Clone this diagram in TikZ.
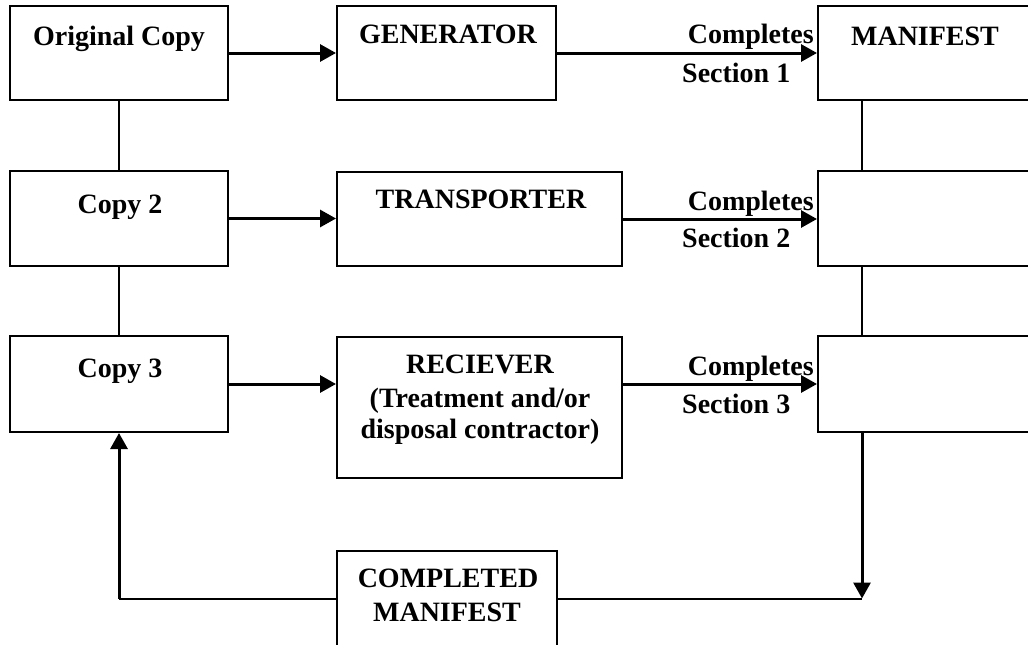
\documentclass[tikz,border=0pt]{standalone}
\usepackage{fontspec}
\setmainfont{Liberation Serif}
\usetikzlibrary{arrows.meta}
\begin{document}
\begin{tikzpicture}[x=1pt,y=-1pt,
  box/.style={draw, line width=2pt, inner sep=0pt, rectangle},
  lbl/.style={font=\fontsize{28}{32}\selectfont\bfseries, inner sep=0pt},
  arr/.style={line width=3pt, -{Triangle[length=16pt,width=17pt]}},
  ln/.style={line width=2pt}]
\useasboundingbox (0,0) rectangle (1028,645);
\clip (0,0) rectangle (1028,645);
% boxes
\node[box, minimum width=218pt, minimum height=94pt] (orig) at (119,53) {};
\node[box, minimum width=219pt, minimum height=94pt] (gen) at (446.5,53) {};
\node[box, minimum width=218pt, minimum height=94pt] (man) at (927,53) {};
\node[box, minimum width=218pt, minimum height=95pt] (copy2) at (119,218.5) {};
\node[box, minimum width=285pt, minimum height=94pt] (trans) at (479.5,219) {};
\node[box, minimum width=218pt, minimum height=95pt] (r2) at (927,218.5) {};
\node[box, minimum width=218pt, minimum height=96pt] (copy3) at (119,384) {};
\node[box, minimum width=285pt, minimum height=141pt] (rec) at (479.5,407.5) {};
\node[box, minimum width=218pt, minimum height=96pt] (r3) at (927,384) {};
\node[box, minimum width=220pt, minimum height=95pt] (comp) at (447,598.5) {};
% texts
\node[lbl, anchor=base] (torig) at (119,45) {Original Copy};
\node[lbl, anchor=base] (tgen) at (448,43) {GENERATOR};
\node[lbl, anchor=base] (tman) at (925,45) {MANIFEST};
\node[lbl, anchor=base] (tcopy2) at (120,213) {Copy 2};
\node[lbl, anchor=base] (ttrans) at (481,208) {TRANSPORTER};
\node[lbl, anchor=base] (tcopy3) at (120,377) {Copy 3};
\node[lbl, anchor=base] (trec1) at (480,373) {RECIEVER};
\node[lbl, anchor=base] (trec2) at (480,407) {(Treatment and/or};
\node[lbl, anchor=base] (trec3) at (480,438) {disposal contractor)};
\node[lbl, anchor=base] (tcomp1) at (448,587) {COMPLETED};
\node[lbl, anchor=base] (tcomp2) at (447,621) {MANIFEST};
\node[lbl, anchor=base east] (c1) at (814,43) {Completes};
\node[lbl, anchor=base west] (s1) at (682,82) {Section 1};
\node[lbl, anchor=base east] (c2) at (814,210) {Completes};
\node[lbl, anchor=base west] (s2) at (682,247) {Section 2};
\node[lbl, anchor=base east] (c3) at (814,375) {Completes};
\node[lbl, anchor=base west] (s3) at (682,413) {Section 3};
% connectors
\coordinate (rv) at (862,0);
\coordinate (lc) at (copy3.south |- comp.west);
\draw[arr] (orig.east) -- (gen.west);
\draw[arr] (gen.east) -- (man.west);
\draw[arr] (copy2.east) -- (copy2.east -| trans.west);
\draw[arr] (trans.east) -- (trans.east -| r2.west);
\draw[arr] (copy3.east) -- (copy3.east -| rec.west);
\draw[arr] (rec.east |- r3.west) -- (r3.west);
\draw[ln] (orig.south) -- (copy2.north);
\draw[ln] (copy2.south) -- (copy3.north);
\draw[ln] (man.south -| rv) -- (r2.north -| rv);
\draw[ln] (r2.south -| rv) -- (r3.north -| rv);
\draw[arr] (r3.south -| rv) -- (comp.east -| rv);
\draw[ln] (comp.east) -- (comp.east -| rv);
\draw[ln] (comp.west) -- (lc);
\draw[arr] (lc) -- (copy3.south);
\end{tikzpicture}
\end{document}
